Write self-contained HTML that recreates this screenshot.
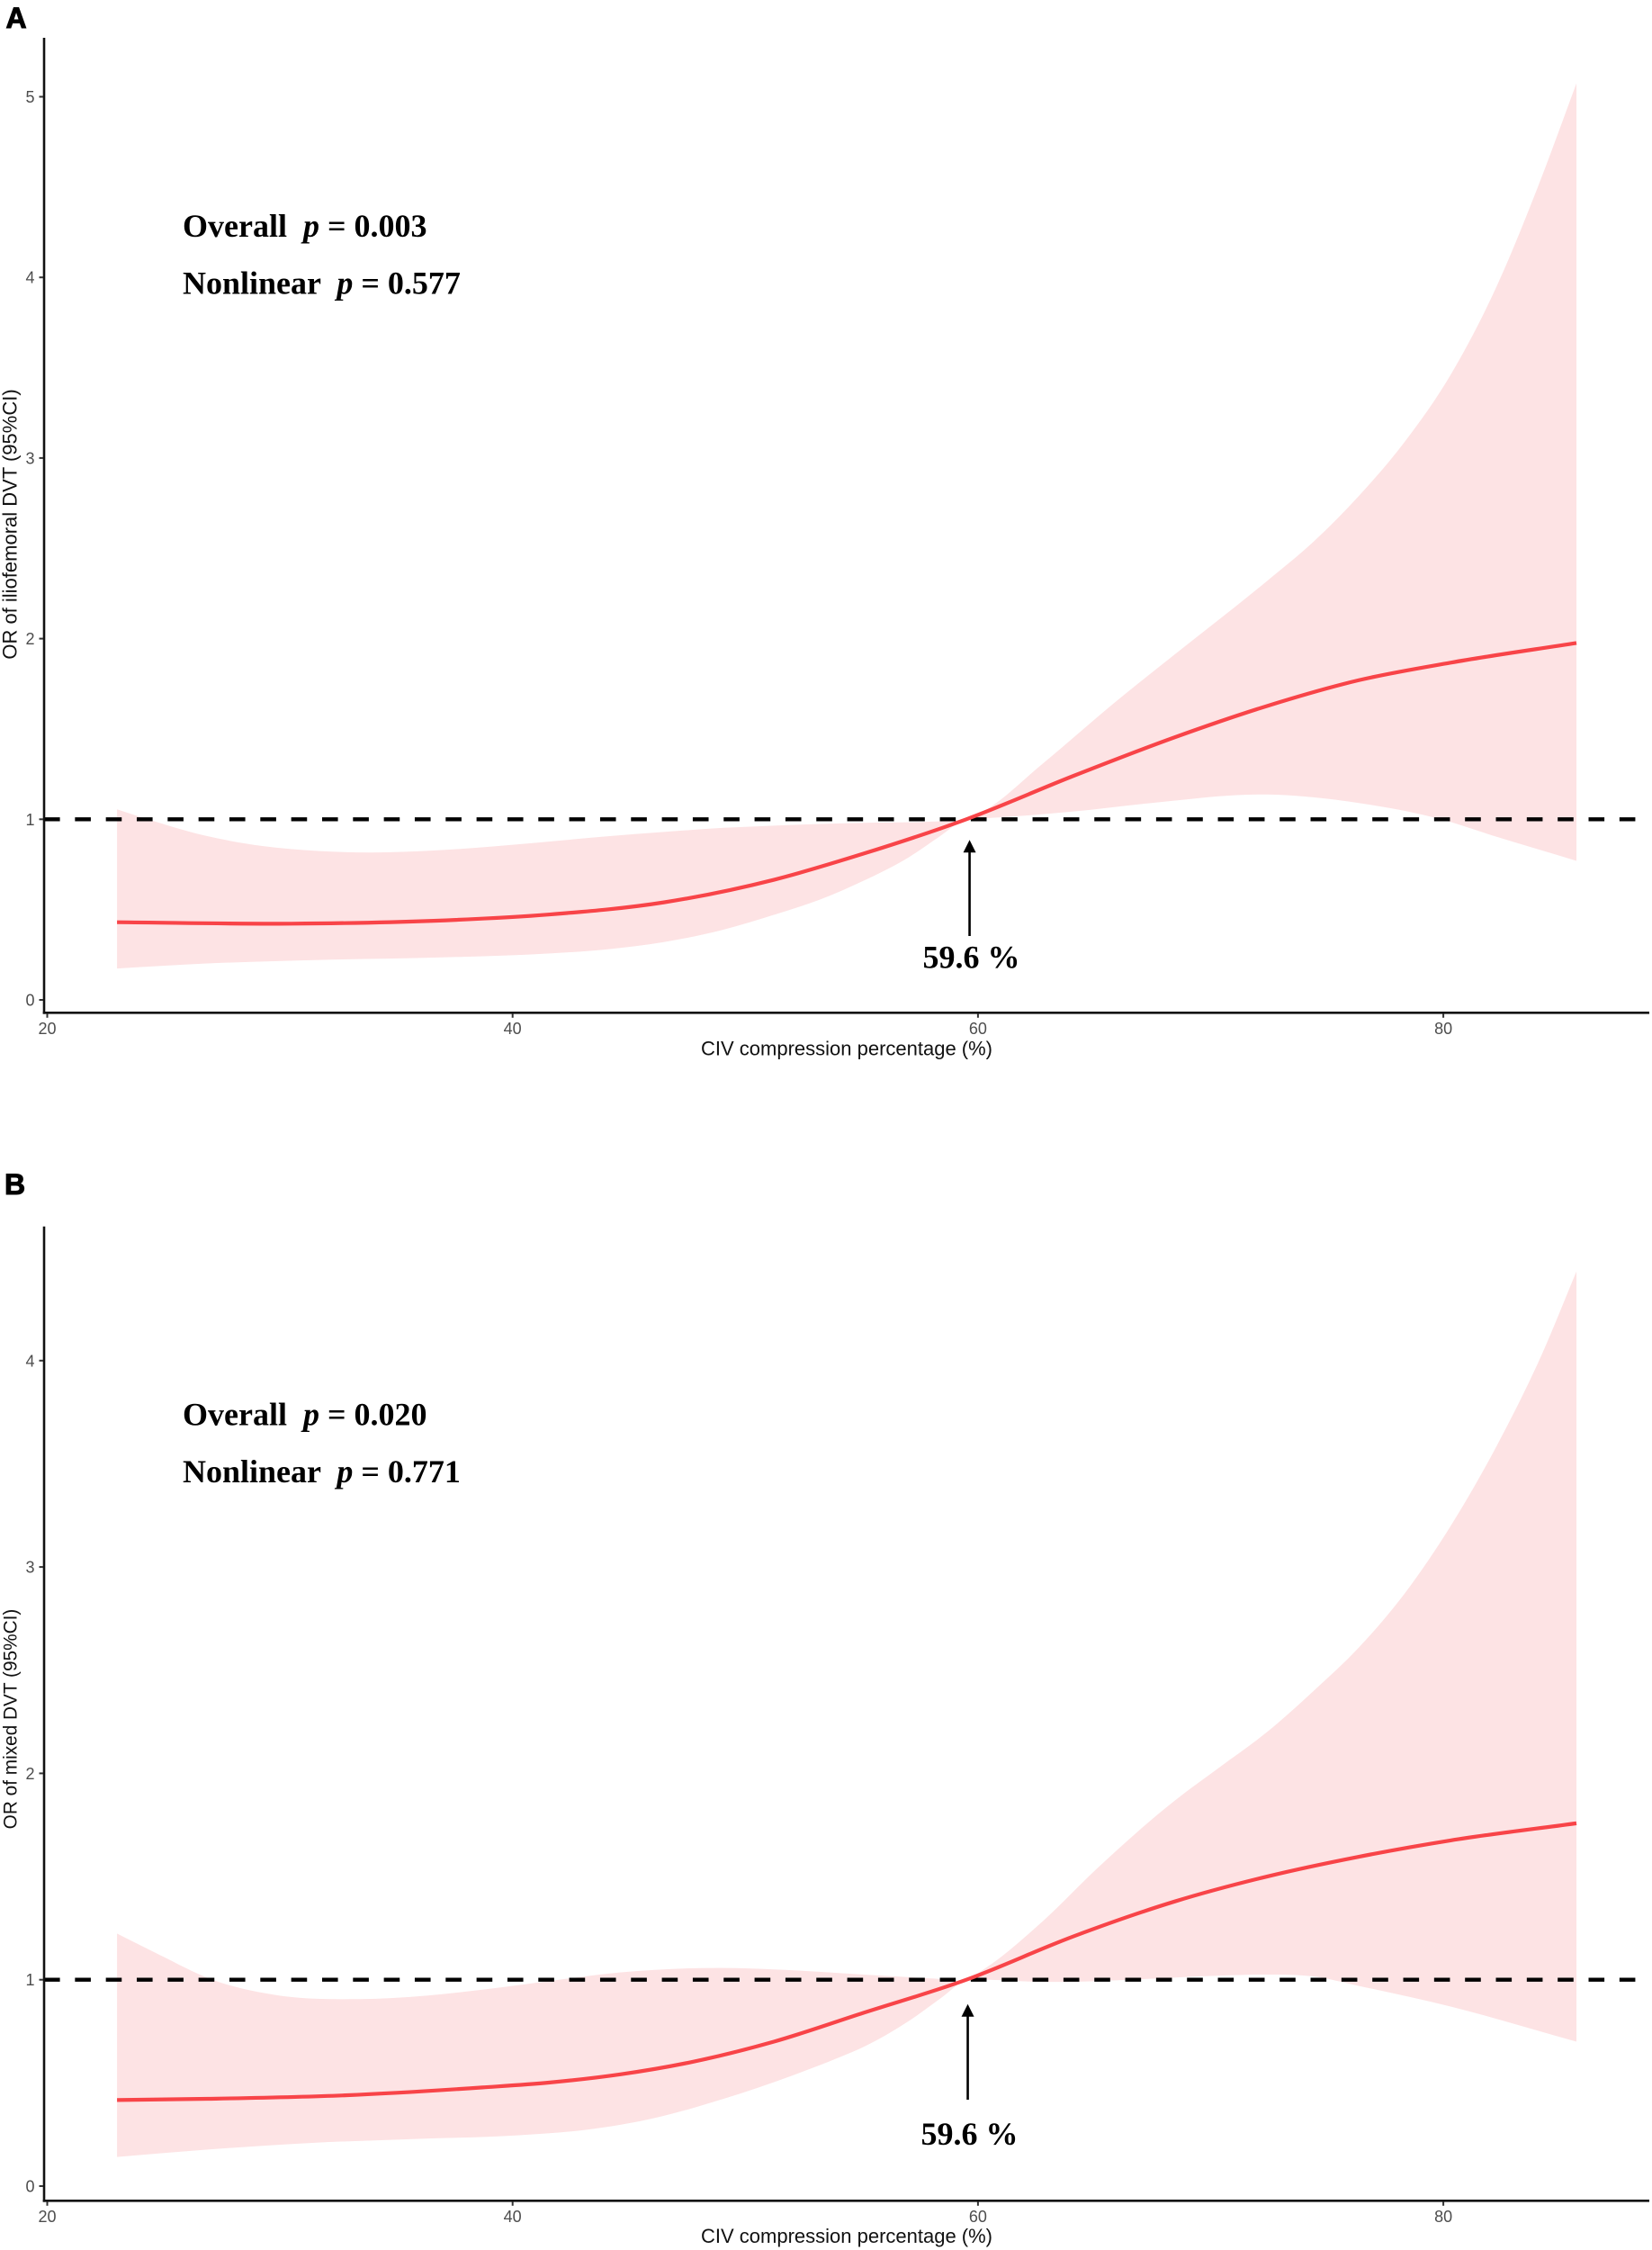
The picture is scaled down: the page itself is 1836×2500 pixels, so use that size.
<!DOCTYPE html>
<html lang="en">
<head>
<meta charset="utf-8">
<title>OR of iliofemoral and mixed DVT by CIV compression percentage</title>
<style>
html,body{margin:0;padding:0;background:#fff;}
svg{display:block;}
text{white-space:pre;}
.stat{font-family:"Liberation Serif",serif;font-weight:bold;font-size:36px;fill:#000;}
.stat .p{font-style:italic;}
.panel-letter{font-family:"Liberation Sans",sans-serif;font-weight:bold;font-size:32px;fill:#000;stroke:#000;stroke-width:1;}
.axis-title{font-family:"Liberation Sans",sans-serif;font-size:22px;fill:#111;}
.tick-label{font-family:"Liberation Sans",sans-serif;font-size:18px;fill:#4d4d4d;}
</style>
</head>
<body>
<svg id="fig" xmlns="http://www.w3.org/2000/svg" width="1836" height="2500" viewBox="0 0 1836 2500">
  <rect width="1836" height="2500" fill="#ffffff"/>

  <g id="panelA"></g>
  <g id="panelB"></g>

  <text class="panel-letter" x="6.5" y="31">A</text>
  <text class="panel-letter" x="5" y="1327">B</text>

  <text class="axis-title" x="941" y="1172.5" text-anchor="middle">CIV compression percentage (%)</text>
  <text class="axis-title" transform="translate(18.5,582.5) rotate(-90)" text-anchor="middle">OR of iliofemoral DVT (95%CI)</text>
  <text class="axis-title" x="941" y="2492" text-anchor="middle">CIV compression percentage (%)</text>
  <text class="axis-title" style="font-size:20.8px" transform="translate(18.5,1910) rotate(-90)" text-anchor="middle">OR of mixed DVT (95%CI)</text>

  <text class="stat" x="203" y="263">Overall  <tspan class="p">p</tspan> = 0.003</text>
  <text class="stat" x="203" y="326.5">Nonlinear  <tspan class="p">p</tspan> = 0.577</text>
  <text class="stat" x="203" y="1583.5">Overall  <tspan class="p">p</tspan> = 0.020</text>
  <text class="stat" x="203" y="1647">Nonlinear  <tspan class="p">p</tspan> = 0.771</text>
</svg>

<script>
// Tick labels
const xTickValues = [20, 40, 60, 80];
const aYTickValues = [0, 1, 2, 3, 4, 5];
const bYTickValues = [0, 1, 2, 3, 4];

// Reference values
const referenceOR = 1;
const thresholdCIV = 59.6;

// Panel A series
const aUpperCIV = [23, 24.3, 26.77, 29.24, 31.7, 33.9, 36.6, 39.1, 41.6, 44, 46.5, 49, 51.23, 55.09, 58.5, 59.5, 60.24, 62.8, 65.91, 68.48, 72.42, 74.4, 76.37, 78.34, 80.31, 82.29, 84.06, 85.72];
const aUpperOR = [1.055, 1.001, 0.91, 0.852, 0.824, 0.816, 0.827, 0.849, 0.877, 0.905, 0.93, 0.952, 0.965, 0.98, 0.99, 1.0, 1.045, 1.31, 1.65, 1.915, 2.319, 2.534, 2.79, 3.09, 3.46, 3.95, 4.5, 5.074];
const aLineCIV = [23, 30.5, 36.6, 41.6, 46.5, 51.23, 55.09, 59.5, 64.1, 68.48, 72.42, 76.37, 80.31, 85.72];
const aLineOR = [0.43, 0.422, 0.438, 0.473, 0.54, 0.665, 0.81, 1.0, 1.24, 1.455, 1.627, 1.77, 1.867, 1.976];
const aLowerCIV = [23, 26.77, 31.7, 36.6, 41.6, 44, 46.5, 49, 51.4, 53.16, 55.09, 57.03, 58.3, 59.5, 60.24, 64.1, 67.45, 72.42, 76.37, 79.9, 82.29, 85.72];
const aLowerOR = [0.174, 0.201, 0.221, 0.234, 0.257, 0.279, 0.32, 0.387, 0.478, 0.553, 0.66, 0.79, 0.9, 1.0, 1.005, 1.043, 1.09, 1.137, 1.09, 1.0, 0.903, 0.77];

// Panel B series
const bUpperCIV = [23, 24.8, 27.1, 29.8, 33.4, 36.3, 38.7, 42, 44.6, 49, 51.23, 55.09, 58.1, 59.5, 60.24, 62.8, 65.08, 68.48, 70.45, 72.42, 74.4, 76.37, 78.34, 80.31, 82.29, 84.26, 85.72];
const bUpperOR = [1.224, 1.122, 1.0, 0.926, 0.906, 0.923, 0.952, 1.0, 1.035, 1.057, 1.05, 1.025, 1.006, 1.0, 1.05, 1.285, 1.535, 1.87, 2.035, 2.2, 2.397, 2.61, 2.872, 3.198, 3.586, 4.037, 4.432];
const bLineCIV = [23, 26.9, 32.8, 38.7, 41.6, 44.6, 47.6, 51.23, 55.09, 59.5, 64.1, 68.48, 72.42, 76.37, 80.31, 85.72];
const bLineOR = [0.417, 0.423, 0.44, 0.478, 0.502, 0.541, 0.599, 0.7, 0.84, 1.0, 1.21, 1.38, 1.5, 1.596, 1.675, 1.758];
const bLowerCIV = [23, 26.9, 31.3, 35.7, 40.2, 43.1, 46.1, 49.1, 52, 54.06, 55.09, 57.03, 58.45, 59.5, 60.5, 62.56, 64.1, 66.5, 70.45, 72.42, 74.4, 76.37, 80.31, 85.72];
const bLowerOR = [0.141, 0.177, 0.209, 0.228, 0.246, 0.272, 0.33, 0.424, 0.535, 0.625, 0.675, 0.8, 0.915, 1.0, 1.0, 0.99, 0.99, 1.0, 1.02, 1.025, 1.016, 0.97, 0.87, 0.7];

const SVG_NS = 'http://www.w3.org/2000/svg';

function make(parent, tag, attrs, text) {
  const node = document.createElementNS(SVG_NS, tag);
  for (const k in attrs) node.setAttribute(k, attrs[k]);
  if (text !== undefined) node.textContent = text;
  parent.appendChild(node);
  return node;
}

function xScale(v) { return 52.5 + (v - 20) * 25.86; }

// Cubic Hermite spline with non-uniform three-point tangents
function pathThrough(pts, move) {
  const n = pts.length;
  const m = [];
  for (let i = 0; i < n; i++) {
    if (i === 0) {
      m[i] = (pts[1][1] - pts[0][1]) / (pts[1][0] - pts[0][0]);
    } else if (i === n - 1) {
      m[i] = (pts[n - 1][1] - pts[n - 2][1]) / (pts[n - 1][0] - pts[n - 2][0]);
    } else {
      const h0 = pts[i][0] - pts[i - 1][0], h1 = pts[i + 1][0] - pts[i][0];
      const d0 = (pts[i][1] - pts[i - 1][1]) / h0, d1 = (pts[i + 1][1] - pts[i][1]) / h1;
      m[i] = (h0 * d1 + h1 * d0) / (h0 + h1);
    }
  }
  let d = (move ? 'M' : 'L') + pts[0][0].toFixed(2) + ' ' + pts[0][1].toFixed(2);
  for (let i = 0; i < n - 1; i++) {
    const h = (pts[i + 1][0] - pts[i][0]) / 3;
    d += 'C' + (pts[i][0] + h).toFixed(2) + ' ' + (pts[i][1] + m[i] * h).toFixed(2) + ' ' +
         (pts[i + 1][0] - h).toFixed(2) + ' ' + (pts[i + 1][1] - m[i + 1] * h).toFixed(2) + ' ' +
         pts[i + 1][0].toFixed(2) + ' ' + pts[i + 1][1].toFixed(2);
  }
  return d;
}

function zip(xs, ys, yScale) {
  return xs.map(function (x, i) { return [xScale(x), yScale(ys[i])]; });
}

// Same spline, traversed right-to-left so the ribbon closes cleanly
function reversedPath(pts) {
  const mirrored = pts.map(function (p) { return [-p[0], p[1]]; }).reverse();
  return pathThrough(mirrored, false).replace(/(-?\d+\.\d+) (-?\d+\.\d+)/g, function (all, x, y) {
    return (-parseFloat(x)).toFixed(2) + ' ' + y;
  });
}

function drawPanel(cfg) {
  const g = document.getElementById(cfg.id);
  const y = function (v) { return cfg.y0 - v * cfg.unit; };

  // Confidence ribbon
  const upper = zip(cfg.upperX, cfg.upperY, y);
  const lower = zip(cfg.lowerX, cfg.lowerY, y);
  const ribbon = make(g, 'path', {
    d: pathThrough(upper, true) + reversedPath(lower) + 'Z',
    fill: '#fde3e4', stroke: 'none'
  });
  
  

  // Reference dashed line
  const ref = make(g, 'line', {
    x1: 49, x2: 1819, y1: y(referenceOR), y2: y(referenceOR),
    stroke: '#000', 'stroke-width': 4.4, 'stroke-dasharray': '17.6 16.73'
  });
  
  

  // OR curve
  const line = make(g, 'path', {
    d: pathThrough(zip(cfg.lineX, cfg.lineY, y), true),
    fill: 'none', stroke: '#f84448', 'stroke-width': 4.2
  });
  
  

  // Axes
  const yAxis = make(g, 'line', { x1: 49, x2: 49, y1: cfg.axisTop, y2: cfg.axisBottom + 1.3, stroke: '#111', 'stroke-width': 2.6 });
  
  
  const xAxis = make(g, 'line', { x1: 47.7, x2: 1833, y1: cfg.axisBottom, y2: cfg.axisBottom, stroke: '#111', 'stroke-width': 2.6 });
  
  

  // Y ticks
  cfg.yTicks.forEach(function (v) {
    const t = make(g, 'line', { x1: 43.5, x2: 48, y1: y(v), y2: y(v), stroke: '#333', 'stroke-width': 2 });
    
    
    const l = make(g, 'text', { 'class': 'tick-label', x: 38.5, y: y(v) + 6.5, 'text-anchor': 'end' }, String(v));
    
    
  });

  // X ticks
  xTickValues.forEach(function (v) {
    const t = make(g, 'line', { x1: xScale(v), x2: xScale(v), y1: cfg.axisBottom + 1, y2: cfg.axisBottom + 5.5, stroke: '#333', 'stroke-width': 2 });
    
    
    const l = make(g, 'text', { 'class': 'tick-label', x: xScale(v), y: cfg.axisBottom + 23.5, 'text-anchor': 'middle' }, String(v));
    
    
  });

  // Threshold annotation
  const ax = xScale(thresholdCIV) + cfg.arrowShift;
  const shaft = make(g, 'line', { x1: ax, x2: ax, y1: cfg.arrowTail, y2: cfg.arrowTip + 12, stroke: '#000', 'stroke-width': 2.6 });
  
  
  const head = make(g, 'polygon', {
    points: ax + ',' + cfg.arrowTip + ' ' + (ax + 7) + ',' + (cfg.arrowTip + 14) + ' ' + (ax - 7) + ',' + (cfg.arrowTip + 14),
    fill: '#000'
  });
  
  
  const label = make(g, 'text', {
    x: ax + 2, y: cfg.labelY, 'text-anchor': 'middle', 'class': 'stat'
  }, thresholdCIV.toFixed(1) + ' %');
  
  
}

drawPanel({
  id: 'panelA', y0: 1111, unit: 200.7, axisTop: 42, axisBottom: 1125.3,
  yTicks: aYTickValues,
  upperX: aUpperCIV, upperY: aUpperOR,
  lineX: aLineCIV, lineY: aLineOR,
  lowerX: aLowerCIV, lowerY: aLowerOR,
  arrowShift: 1, arrowTip: 933.3, arrowTail: 1040, labelY: 1075.5
});

drawPanel({
  id: 'panelB', y0: 2429, unit: 229.3, axisTop: 1362.7, axisBottom: 2445.3,
  yTicks: bYTickValues,
  upperX: bUpperCIV, upperY: bUpperOR,
  lineX: bLineCIV, lineY: bLineOR,
  lowerX: bLowerCIV, lowerY: bLowerOR,
  arrowShift: -1, arrowTip: 2226.7, arrowTail: 2333, labelY: 2383
});
</script>
</body>
</html>
